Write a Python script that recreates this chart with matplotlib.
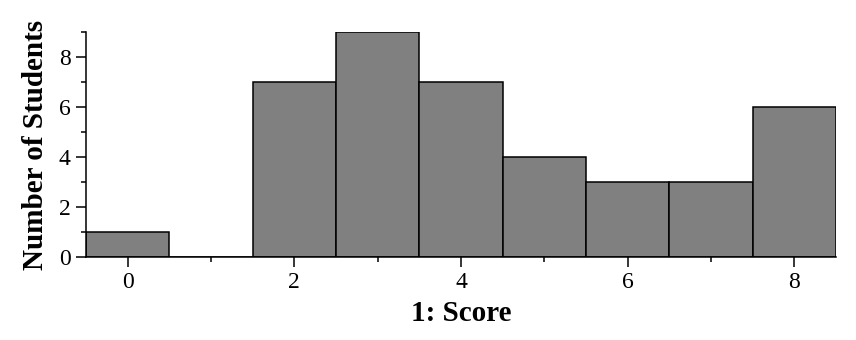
import matplotlib.pyplot as plt
import numpy as np
from matplotlib.ticker import MultipleLocator

# Data
scores = np.array([0, 1, 2, 3, 4, 5, 6, 7, 8])
counts = np.array([1, 0, 7, 9, 7, 4, 3, 3, 6])

plt.rcParams['font.family'] = ['Liberation Serif', 'DejaVu Serif']

fig = plt.figure(figsize=(8.56, 3.40), dpi=100)
ax = fig.add_axes([0.1005, 0.244, 0.876, 0.662])

ax.bar(scores, counts, width=1.0, color='#808080', edgecolor='black', linewidth=1.1)

ax.set_xlim(-0.5, 8.5)
ax.set_ylim(0, 9)
ax.xaxis.set_major_locator(MultipleLocator(2))
ax.xaxis.set_minor_locator(MultipleLocator(1))
ax.yaxis.set_major_locator(MultipleLocator(2))
ax.yaxis.set_minor_locator(MultipleLocator(1))

for s in ['top', 'right']:
    ax.spines[s].set_visible(False)
for s in ['left', 'bottom']:
    ax.spines[s].set_linewidth(1.1)

ax.tick_params(which='major', direction='out', length=7, width=1.1, labelsize=17, pad=4)
ax.tick_params(which='minor', direction='out', length=3.5, width=1.1)

ax.set_xlabel("1: Score", fontsize=21, fontweight='bold', labelpad=5)
ax.set_ylabel("Number of Students", fontsize=21, fontweight='bold', labelpad=7)

fig.savefig("out.png", dpi=100)
